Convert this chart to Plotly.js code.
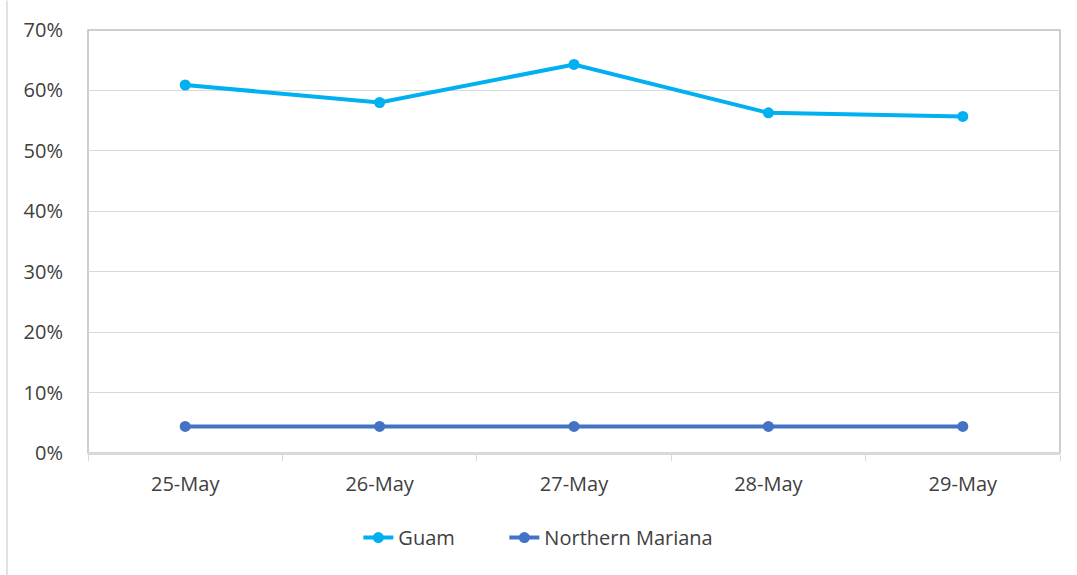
<!DOCTYPE html>
<html>
<head>
<meta charset="utf-8">
<script src="https://cdn.plot.ly/plotly-3.0.1.min.js"></script>
<style>html,body{margin:0;padding:0;background:#fff;}#chart{width:1077px;height:575px;}</style>
</head>
<body>
<div id="chart"></div>
<script>
var categories = ["25-May", "26-May", "27-May", "28-May", "29-May"];
var guam = [0.609, 0.580, 0.643, 0.563, 0.557];
var northernMariana = [0.044, 0.044, 0.044, 0.044, 0.044];
var yTicks = [0, 0.1, 0.2, 0.3, 0.4, 0.5, 0.6, 0.7];

var fontFam = "Open Sans, Liberation Sans, sans-serif";
var traces = [
  {x: categories, y: guam, name: "Guam", type: "scatter", mode: "lines+markers", legendwidth: 101,
   line: {color: "#00b0f0", width: 4}, marker: {color: "#00b0f0", size: 11}},
  {x: categories, y: northernMariana, name: "Northern Mariana", type: "scatter", mode: "lines+markers", legendwidth: 180,
   line: {color: "#4472c4", width: 4}, marker: {color: "#4472c4", size: 11}}
];
var layout = {
  width: 1077, height: 575,
  margin: {l: 88, r: 17, t: 30, b: 122},
  paper_bgcolor: "#fff", plot_bgcolor: "#fff",
  font: {family: fontFam, size: 20, color: "#404040"},
  showlegend: true,
  legend: {orientation: "h", x: 0.469, xanchor: "center", y: -0.2, yanchor: "middle",
           font: {size: 20, color: "#404040"}},
  xaxis: {type: "category", tickson: "boundaries", ticks: "outside", ticklen: 6, tickcolor: "#d9d9d9",
          showgrid: false, showline: true, linecolor: "#d9d9d9", linewidth: 1.5, ticklabelstandoff: 12,
          range: [-0.5, 4.5], fixedrange: true, tickfont: {size: 20}},
  yaxis: {range: [0, 0.7], tickvals: yTicks, tickformat: ".0%", showgrid: true, gridcolor: "#d9d9d9",
          gridwidth: 1, zeroline: false, showline: false, ticks: "", ticklabelstandoff: 24, tickfont: {size: 20}},
  shapes: [
    {type: "rect", xref: "paper", yref: "paper", x0: 0, x1: 1, y0: 0, y1: 1, line: {color: "#bfbfbf", width: 1.5}, layer: "below"},
    {type: "line", xref: "paper", yref: "paper", x0: 0, x1: 1, y0: 0, y1: 0, line: {color: "#d9d9d9", width: 2}},
    {type: "line", xref: "paper", yref: "paper", x0: -81/972, x1: -81/972, y0: 1.07, y1: -0.29, line: {color: "#d9d9d9", width: 1.5}}
  ]
};
Plotly.newPlot("chart", traces, layout, {displayModeBar: false, staticPlot: true});
</script>
</body>
</html>
